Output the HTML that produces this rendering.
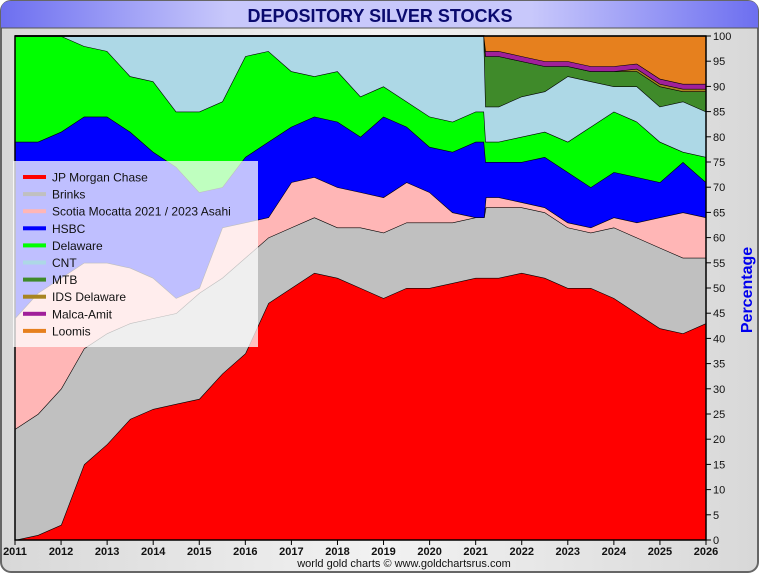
<!DOCTYPE html>
<html><head><meta charset="utf-8"><style>
body{margin:0;width:760px;height:575px;overflow:hidden;background:#fff;font-family:"Liberation Sans",sans-serif}
</style></head><body>
<svg width="760" height="575" xmlns="http://www.w3.org/2000/svg">
<defs>
<linearGradient id="tg" x1="0" x2="1"><stop offset="0" stop-color="#6d6ff0"/><stop offset="0.3" stop-color="#c8c8fb"/><stop offset="0.7" stop-color="#c8c8fb"/><stop offset="1" stop-color="#6d6ff0"/></linearGradient>
<linearGradient id="bg" x1="0" x2="1"><stop offset="0" stop-color="#d8d8d8"/><stop offset="0.5" stop-color="#f2f2f2"/><stop offset="1" stop-color="#d8d8d8"/></linearGradient>
</defs>
<rect x="1" y="1" width="757" height="571" rx="10" fill="url(#bg)" stroke="#666" stroke-width="2"/>
<path d="M1,28 L1,11 Q1,1 11,1 L748,1 Q758,1 758,11 L758,28 Z" fill="url(#tg)"/>
<line x1="1" y1="28" x2="758" y2="28" stroke="#555" stroke-width="1"/>
<text x="380" y="22" text-anchor="middle" font-size="18" font-weight="bold" fill="#0a0a6e">DEPOSITORY SILVER STOCKS</text>
<g id="plot"></g>
<g id="axes"></g>
<text x="0" y="0" transform="translate(752,290) rotate(-90)" text-anchor="middle" font-size="16" font-weight="bold" fill="#0000ee">Percentage</text>
<text x="404" y="567" text-anchor="middle" font-size="11" fill="#111">world gold charts © www.goldchartsrus.com</text>
<g id="legend"></g>
</svg>
<script>
const years=[2011,2011.5,2012,2012.5,2013,2013.5,2014,2014.5,2015,2015.5,2016,2016.5,2017,2017.5,2018,2018.5,2019,2019.5,2020,2020.5,2021,2021.18,2021.22,2021.5,2022,2022.5,2023,2023.5,2024,2024.5,2025,2025.5,2026];
const seriesNames=["JP Morgan Chase","Brinks","Scotia Mocatta 2021 / 2023 Asahi","HSBC","Delaware","CNT","MTB","IDS Delaware","Malca-Amit","Loomis"];
const jpm=[0,1,3,15,19,24,26,27,28,33,37,47,50,53,52,50,48,50,50,51,52,52,52,52,53,52,50,50,48,45,42,41,43];
const brinks=[22,24,27,23,22,19,18,18,21,19,19,13,12,11,10,12,13,13,13,12,12,12,14,14,13,13,12,11,14,15,16,15,13];
const scotia=[22,24,22,17,14,11,8,3,1,10,7,4,9,8,8,7,7,8,6,2,0,0,2,2,1,1,1,1,2,3,6,9,8];
const hsbc=[35,30,29,29,29,27,25,26,19,8,13,15,11,12,13,11,16,11,9,12,15,15,7,7,8,10,10,8,9,9,7,10,7];
const delaware=[21,21,19,14,13,11,14,11,16,17,20,18,11,8,10,8,6,5,6,6,6,6,4,4,5,5,6,12,12,11,8,2,5];
const cnt=[0,0,0,2,3,8,9,15,15,13,4,3,7,8,7,12,10,13,16,17,15,15,7,7,8,8,13,9,5,7,7,10,9];
const mtb=[0,0,0,0,0,0,0,0,0,0,0,0,0,0,0,0,0,0,0,0,0,0,10,10,7,5,2,2,3,3,4,2,4];
const ids=[0,0,0,0,0,0,0,0,0,0,0,0,0,0,0,0,0,0,0,0,0,0,0,0,0,0,0,0,0,0.5,0.5,0.5,0.5];
const malca=[0,0,0,0,0,0,0,0,0,0,0,0,0,0,0,0,0,0,0,0,0,0,1,1,1,1,1,1,1,1,1,1,1];
const loomis=[0,0,0,0,0,0,0,0,0,0,0,0,0,0,0,0,0,0,0,0,0,0,3,3,4,5,5,6,6,5.5,8.5,9.5,9.5];
const yTicks=[0,5,10,15,20,25,30,35,40,45,50,55,60,65,70,75,80,85,90,95,100];
const xTicks=[2011,2012,2013,2014,2015,2016,2017,2018,2019,2020,2021,2022,2023,2024,2025,2026];
const series=[jpm,brinks,scotia,hsbc,delaware,cnt,mtb,ids,malca,loomis];
const colors=["#ff0000","#c0c0c0","#ffb6b6","#0000ff","#00ff00","#add8e6","#3f8a2a","#a88420","#a0209a","#e6801e"];
const keys=["jpm","brinks","scotia","hsbc","delaware","cnt","mtb","ids","malca","loomis"];
const X0=15,X1=706,Y0=540,Y1=36;
const xs=v=>X0+(v-2011)/(2026-2011)*(X1-X0);
const ys=v=>Y0-v/100*(Y0-Y1);
const NS="http://www.w3.org/2000/svg";
const plot=document.getElementById('plot'),axes=document.getElementById('axes'),legend=document.getElementById('legend');
const bgr=document.createElementNS(NS,'rect');
bgr.setAttribute('x',X0);bgr.setAttribute('y',Y1);bgr.setAttribute('width',X1-X0);bgr.setAttribute('height',Y0-Y1);bgr.setAttribute('fill','#e6801e');


plot.appendChild(bgr);
let base=years.map(()=>0);
series.forEach((s,i)=>{
  const top=base.map((b,j)=>Math.min(100,b+s[j]));
  let d='M'+years.map((y,j)=>xs(y).toFixed(1)+','+ys(top[j]).toFixed(1)).join(' L');
  for(let j=years.length-1;j>=0;j--) d+=' L'+xs(years[j]).toFixed(1)+','+ys(base[j]).toFixed(1);
  d+=' Z';
  const p=document.createElementNS(NS,'path');
  p.setAttribute('d',d);p.setAttribute('fill',colors[i]);
  
  
  plot.appendChild(p);
  const l=document.createElementNS(NS,'path');
  l.setAttribute('d','M'+years.map((y,j)=>xs(y).toFixed(1)+','+ys(top[j]).toFixed(1)).join(' L'));
  l.setAttribute('fill','none');l.setAttribute('stroke','#000');l.setAttribute('stroke-width','1.2');
  
  
  plot.appendChild(l);
  base=top;
});
const fr=document.createElementNS(NS,'rect');
fr.setAttribute('x',X0);fr.setAttribute('y',Y1);fr.setAttribute('width',X1-X0);fr.setAttribute('height',Y0-Y1);fr.setAttribute('fill','none');fr.setAttribute('stroke','#000');fr.setAttribute('stroke-width','1.5');


axes.appendChild(fr);
yTicks.forEach(v=>{
  const t=document.createElementNS(NS,'line');
  t.setAttribute('x1',X1);t.setAttribute('x2',X1+5);t.setAttribute('y1',ys(v));t.setAttribute('y2',ys(v));t.setAttribute('stroke','#000');
  
  
  axes.appendChild(t);
  const tx=document.createElementNS(NS,'text');
  tx.setAttribute('x',X1+7);tx.setAttribute('y',ys(v)+4);tx.setAttribute('font-size','11');tx.setAttribute('fill','#111');
  tx.textContent=v;
  
  
  axes.appendChild(tx);
});
xTicks.forEach(v=>{
  const t=document.createElementNS(NS,'line');
  t.setAttribute('x1',xs(v));t.setAttribute('x2',xs(v));t.setAttribute('y1',Y0);t.setAttribute('y2',Y0+5);t.setAttribute('stroke','#000');
  
  
  axes.appendChild(t);
  const tx=document.createElementNS(NS,'text');
  tx.setAttribute('x',xs(v));tx.setAttribute('y',555);tx.setAttribute('font-size','11');tx.setAttribute('font-weight','bold');tx.setAttribute('text-anchor','middle');tx.setAttribute('fill','#111');
  tx.textContent=v;
  
  
  axes.appendChild(tx);
});
const lb=document.createElementNS(NS,'rect');
lb.setAttribute('x',13);lb.setAttribute('y',161);lb.setAttribute('width',245);lb.setAttribute('height',186);lb.setAttribute('fill','#ffffff');lb.setAttribute('fill-opacity','0.75');


legend.appendChild(lb);
seriesNames.forEach((n,i)=>{
  const y=177+i*17.1;
  const sw=document.createElementNS(NS,'rect');
  sw.setAttribute('x',23);sw.setAttribute('y',y-2);sw.setAttribute('width',23);sw.setAttribute('height',4);sw.setAttribute('fill',colors[i]);
  
  
  legend.appendChild(sw);
  const tx=document.createElementNS(NS,'text');
  tx.setAttribute('x',52);tx.setAttribute('y',y+4.5);tx.setAttribute('font-size','12');tx.setAttribute('fill','#111');
  tx.textContent=n;
  
  
  legend.appendChild(tx);
});
</script>
</body></html>
